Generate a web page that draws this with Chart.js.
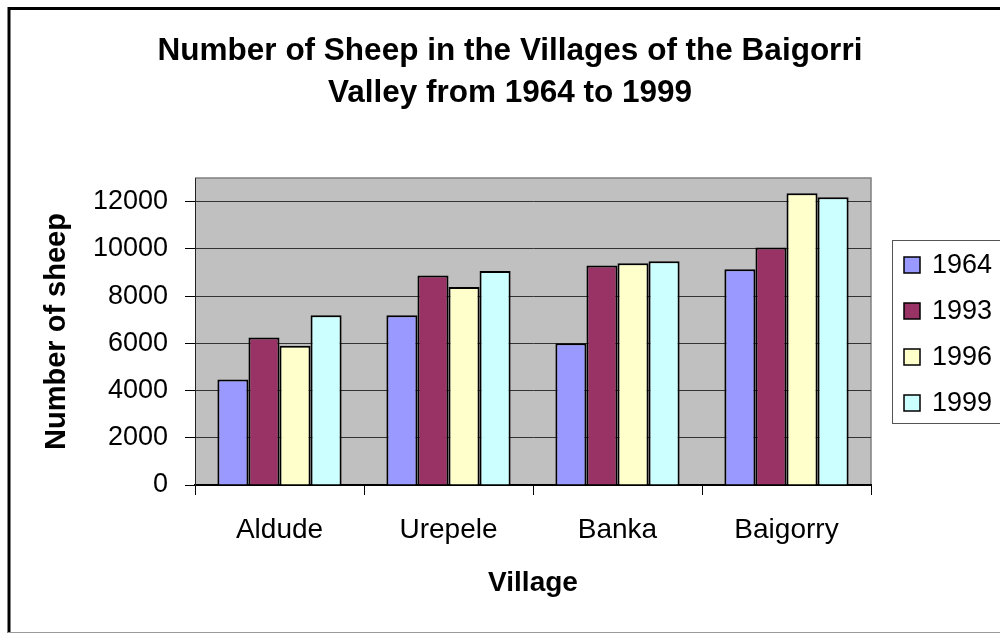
<!DOCTYPE html>
<html>
<head>
<meta charset="utf-8">
<script src="https://cdn.jsdelivr.net/npm/chart.js@4"></script>
<style>
html, body { margin: 0; padding: 0; background: #fff; }
</style>
</head>
<body>
<canvas id="myChart" width="1000" height="633"></canvas>
<script>
// dados
let villages = ['Aldude', 'Urepele', 'Banka', 'Baigorry'];
let anos = ['1964', '1993', '1996', '1999'];
let sheep1964 = [4470, 7190, 6000, 9140];
let sheep1993 = [6250, 8870, 9290, 10060];
let sheep1996 = [5900, 8380, 9390, 12350];
let sheep1999 = [7190, 9060, 9480, 12180];
let yTicks = [0, 2000, 4000, 6000, 8000, 10000, 12000];
let yMax = 13000;
let titulo = ['Number of Sheep in the Villages of the Baigorri', 'Valley from 1964 to 1999'];

let cores = ['#9999FF', '#993366', '#FFFFCC', '#CCFFFF'];
let series = [sheep1964, sheep1993, sheep1996, sheep1999];
let fonte = 'Liberation Sans, Arial, sans-serif';

const moldura = {
    id: 'moldura',
    beforeDraw(chart) {
        const ctx = chart.ctx;
        const a = chart.chartArea;
        ctx.save();
        ctx.fillStyle = '#fff';
        ctx.fillRect(0, 0, chart.width, chart.height);
        // frame of the whole chart
        ctx.strokeStyle = '#000';
        ctx.lineWidth = 3;
        ctx.beginPath();
        ctx.moveTo(9, chart.height);
        ctx.lineTo(9, 8.5);
        ctx.lineTo(chart.width, 8.5);
        ctx.stroke();
        ctx.strokeStyle = '#999';
        ctx.lineWidth = 1;
        ctx.beginPath();
        ctx.moveTo(8, 632.5);
        ctx.lineTo(chart.width, 632.5);
        ctx.stroke();
        // plot area
        ctx.fillStyle = '#C0C0C0';
        ctx.fillRect(a.left, a.top, a.right - a.left, a.bottom - a.top);
        ctx.strokeStyle = '#808080';
        ctx.lineWidth = 1.5;
        ctx.beginPath();
        ctx.moveTo(a.left, a.top);
        ctx.lineTo(a.right, a.top);
        ctx.lineTo(a.right, a.bottom);
        ctx.stroke();
        ctx.restore();
    },
    afterDraw(chart) {
        const ctx = chart.ctx;
        ctx.save();
        // titulo
        ctx.fillStyle = '#000';
        ctx.font = 'bold 31.5px ' + fonte;
        ctx.textAlign = 'center';
        ctx.textBaseline = 'middle';
        titulo.forEach((t, i) => ctx.fillText(t, 510, 51 + i * 42));
        // legenda
        ctx.strokeStyle = '#555';
        ctx.lineWidth = 1;
        ctx.strokeRect(892.5, 240.5, 120, 183);
        ctx.font = '27px ' + fonte;
        ctx.textAlign = 'left';
        chart.data.datasets.forEach((ds, i) => {
            const y = 265 + i * 46;
            ctx.fillStyle = ds.backgroundColor;
            ctx.fillRect(904, y - 8, 16, 16);
            ctx.strokeStyle = '#000';
            ctx.lineWidth = 1.5;
            ctx.strokeRect(904, y - 8, 16, 16);
            ctx.fillStyle = '#000';
            ctx.fillText(ds.label, 932, y + 1);
        });
        ctx.restore();
    }
};

const ctx = document.getElementById('myChart').getContext('2d');
const myChart = new Chart(ctx, {
    type: 'bar',
    data: {
        labels: villages,
        datasets: anos.map((ano, i) => ({
            label: ano,
            data: series[i],
            backgroundColor: cores[i],
            borderColor: '#000',
            borderWidth: 2,
            categoryPercentage: 0.735,
            barPercentage: 1.0
        }))
    },
    options: {
        responsive: false,
        animation: false,
        layout: { padding: { top: 178, left: 30, right: 129, bottom: 0 } },
        plugins: {
            legend: { display: false },
            title: { display: false },
            tooltip: { enabled: false }
        },
        scales: {
            x: {
                afterFit(scale) { scale.height = 148; },
                grid: { drawOnChartArea: false, offset: true, tickLength: 10, color: '#000' },
                border: { color: '#000', width: 2 },
                ticks: { color: '#000', padding: 18, font: { family: fonte, size: 28 } },
                title: {
                    display: true, text: 'Village', color: '#000',
                    padding: { top: 0, bottom: 33 },
                    font: { family: fonte, size: 28, weight: 'bold' }
                }
            },
            y: {
                min: 0,
                max: yMax,
                afterFit(scale) { scale.width = 165; },
                afterBuildTicks(scale) { scale.ticks = yTicks.map(v => ({ value: v })); },
                grid: { color: '#333', tickLength: 10, tickColor: '#000' },
                border: { color: '#222', width: 1 },
                ticks: {
                    color: '#000', padding: 17,
                    font: { family: fonte, size: 27 },
                    callback: v => String(v)
                },
                title: {
                    display: true, text: 'Number of sheep', color: '#000',
                    padding: { top: 10, bottom: 0 },
                    font: { family: fonte, size: 29, weight: 'bold' }
                }
            }
        }
    },
    plugins: [moldura]
});
</script>
</body>
</html>
